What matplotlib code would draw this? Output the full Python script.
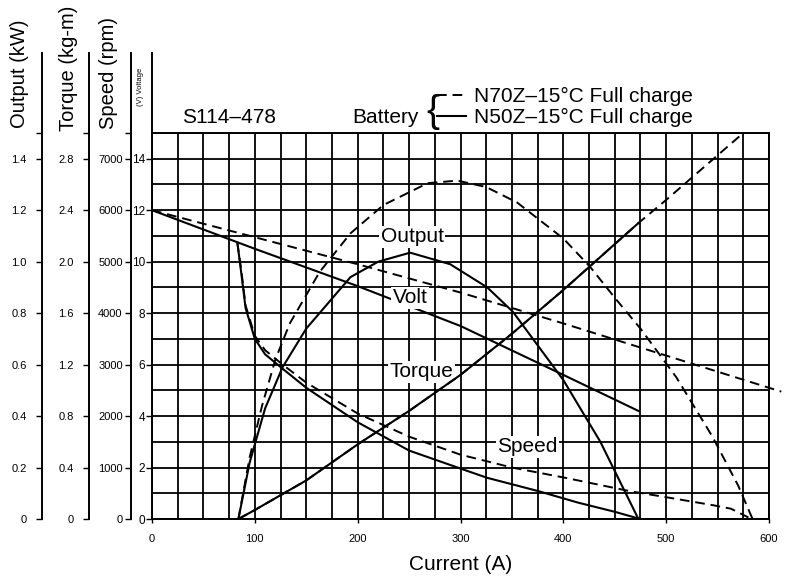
import matplotlib.pyplot as plt
from matplotlib.ticker import MultipleLocator, FixedLocator

plt.rcParams['font.family'] = ['Liberation Sans', 'DejaVu Sans']

# battery voltage (V) vs current (A)
volt_a_n70 = [0, 100, 200, 300, 400, 500, 600, 612]
volt_n70 = [12.0, 10.95, 9.9, 8.8, 7.6, 6.35, 5.1, 4.95]
volt_a_n50 = [0, 100, 200, 300, 400, 473]
volt_n50 = [12.0, 10.5, 9.05, 7.5, 5.6, 4.2]

# output (kW)
out_a_n70 = [84, 95, 107, 120, 134, 163, 193, 225, 268, 297, 325, 355, 400, 426,
             452, 475, 510, 545, 570, 584]
out_n70 = [0, 0.24, 0.44, 0.62, 0.76, 0.96, 1.11, 1.22, 1.305, 1.315, 1.29, 1.23,
           1.09, 0.98, 0.85, 0.74, 0.55, 0.32, 0.13, 0]
out_a_n50 = [84, 95, 110, 127, 150, 193, 220, 251, 290, 326, 351, 400, 436, 473]
out_n50 = [0, 0.22, 0.43, 0.59, 0.74, 0.94, 1.00, 1.035, 0.99, 0.90, 0.805, 0.54,
           0.30, 0]

# torque (kg-m), same motor curve for both batteries
tq_a_n70 = [84, 100, 150, 200, 250, 300, 350, 400, 473, 500, 575]
tq_n70 = [0, 0.07, 0.30, 0.58, 0.84, 1.12, 1.44, 1.78, 2.30, 2.48, 3.00]
tq_a_n50 = [84, 100, 150, 200, 250, 300, 350, 400, 473]
tq_n50 = [0, 0.07, 0.30, 0.58, 0.84, 1.12, 1.44, 1.78, 2.30]

# speed (rpm)
sp_a_n70 = [83, 87, 91, 100, 110, 127, 150, 200, 250, 300, 350, 402, 465, 507,
            545, 563, 580]
sp_n70 = [5370, 4800, 4150, 3560, 3280, 3000, 2650, 2050, 1600, 1250, 1000, 800,
          540, 400, 270, 200, 30]
sp_a_n50 = [83, 87, 91, 100, 110, 127, 150, 200, 250, 300, 326, 376, 414, 450, 473]
sp_n50 = [5370, 4750, 4100, 3500, 3200, 2920, 2550, 1880, 1330, 980, 800, 540,
          320, 140, 10]

x_ticks = [0, 100, 200, 300, 400, 500, 600]
volt_ticks = [0, 2, 4, 6, 8, 10, 12, 14]
out_ticks = [0, 0.2, 0.4, 0.6, 0.8, 1.0, 1.2, 1.4]
out_labels = ['0', '0.2', '0.4', '0.6', '0.8', '1.0', '1.2', '1.4']
tq_ticks = [0, 0.4, 0.8, 1.2, 1.6, 2.0, 2.4, 2.8]
tq_labels = ['0', '0.4', '0.8', '1.2', '1.6', '2.0', '2.4', '2.8']
sp_ticks = [0, 1000, 2000, 3000, 4000, 5000, 6000, 7000]

W, H = 786, 577
fig = plt.figure(figsize=(W / 100, H / 100), dpi=100)
ax = fig.add_axes([152 / W, 1 - 519 / H, 617 / W, 386 / H])

ax.set_xlim(0, 600)
ax.set_ylim(0, 15)
ax.xaxis.set_major_locator(FixedLocator(x_ticks))
ax.xaxis.set_minor_locator(MultipleLocator(25))
ax.yaxis.set_major_locator(FixedLocator(volt_ticks))
ax.yaxis.set_minor_locator(MultipleLocator(1))
ax.grid(which='both', color='black', lw=1.3)
ax.tick_params(axis='x', which='major', length=3, width=1, pad=8, labelsize=8)
ax.tick_params(axis='y', which='major', length=4, width=1, pad=1, labelsize=8.5)
ax.tick_params(which='minor', length=0)
for s in ax.spines.values():
    s.set_linewidth(1.4)
ax.spines['left'].set_bounds(0, 18.1)

dash = (5, 3)
ax.plot(volt_a_n70, volt_n70, color='black', lw=1.4, ls='--', dashes=dash,
        clip_on=False)
ax.plot(volt_a_n50, volt_n50, color='black', lw=1.5)


def side_axis(offset, top, ticks, labels, pad):
    t = ax.twinx()
    t.set_ylim(0, top)
    t.yaxis.tick_left()
    for s in ('right', 'top', 'bottom'):
        t.spines[s].set_visible(False)
    sp = t.spines['left']
    sp.set_visible(True)
    sp.set_position(('axes', offset))
    sp.set_bounds(0, top * 18.1 / 15)
    sp.set_linewidth(1.4)
    t.set_yticks(ticks)
    t.set_yticklabels(labels)
    t.yaxis.set_minor_locator(FixedLocator([top]))
    t.tick_params(axis='y', which='major', length=4, width=1, pad=pad, labelsize=8)
    t.tick_params(axis='y', which='minor', length=4, width=1)
    return t


ax_out = side_axis(-0.178, 1.5, out_ticks, out_labels, 7)
ax_tq = side_axis(-0.102, 3.0, tq_ticks, tq_labels, 7)
ax_sp = side_axis(-0.034, 7500, sp_ticks, [str(v) for v in sp_ticks], 2)

ax_out.plot(out_a_n70, out_n70, color='black', lw=1.4, ls='--', dashes=dash)
ax_out.plot(out_a_n50, out_n50, color='black', lw=1.5)
ax_tq.plot(tq_a_n70, tq_n70, color='black', lw=1.4, ls='--', dashes=dash)
ax_tq.plot(tq_a_n50, tq_n50, color='black', lw=1.5)
l70, = ax_sp.plot(sp_a_n70, sp_n70, color='black', lw=1.4, ls='--', dashes=dash)
l50, = ax_sp.plot(sp_a_n50, sp_n50, color='black', lw=1.5)

# curve names with white patches over the grid
box = dict(facecolor='white', edgecolor='none', pad=1)
for name, a, v in [('Output', 253, 10.97), ('Volt', 251, 8.6),
                   ('Torque', 262, 5.72), ('Speed', 365, 2.8)]:
    ax.text(a, v, name, fontsize=15, ha='center', va='center', bbox=box, zorder=3)

ax.set_xlabel('Current (A)', fontsize=15, labelpad=8)


def px(x, y):
    return x / W, 1 - y / H


fig.text(*px(20, 74), 'Output (kW)', rotation=90, fontsize=14.5, ha='center', va='center')
fig.text(*px(68, 68), 'Torque (kg-m)', rotation=90, fontsize=14.5, ha='center', va='center')
fig.text(*px(108, 73), 'Speed (rpm)', rotation=90, fontsize=14.5, ha='center', va='center')
fig.text(*px(141, 87), '(V) Voltage', rotation=90, fontsize=5.5, ha='center', va='center')

fig.text(*px(182, 117), 'S114\u2013478', fontsize=15, ha='left', va='center')
fig.text(*px(352, 117), 'Battery', fontsize=15, ha='left', va='center')
fig.text(*px(426, 112), '{', fontsize=28, fontweight='light', ha='left', va='center')
fig.legend([l70, l50], ['N70Z\u201315\u00b0C Full charge', 'N50Z\u201315\u00b0C Full charge'],
           loc='center left', bbox_to_anchor=px(437, 107), frameon=False,
           fontsize=15, handlelength=1.4, handletextpad=0.4, labelspacing=0.1,
           borderpad=0, borderaxespad=0)

fig.savefig('out.png', dpi=100)
